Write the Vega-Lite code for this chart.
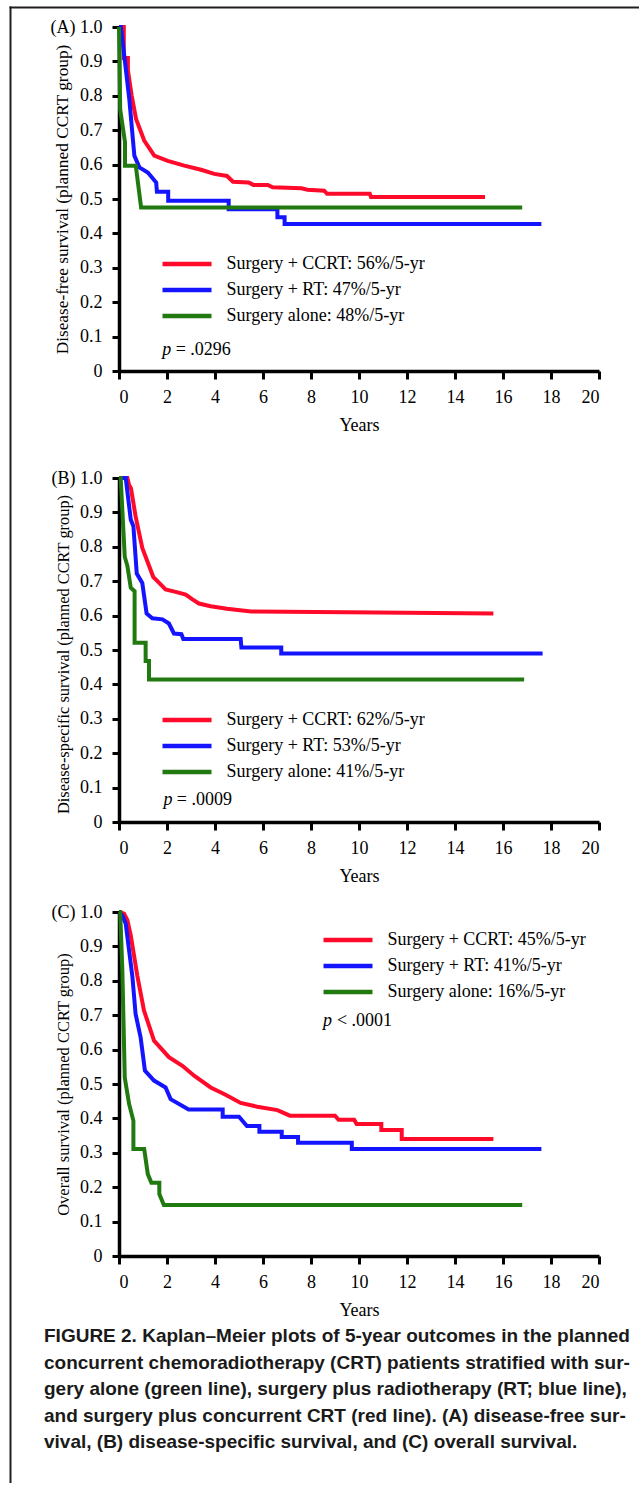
{
  "$schema": "https://vega.github.io/schema/vega-lite/v6.json",
  "background": "white",
  "padding": {"left": 7, "top": 7, "right": 0, "bottom": 0},
  "bounds": "flush",
  "spacing": 0,
  "datasets": {
    "dfs": [
      {"g":"CCRT","t":0,"s":1},{"g":"CCRT","t":0.2,"s":1},{"g":"CCRT","t":0.2,"s":0.91},{"g":"CCRT","t":0.37,"s":0.91},{"g":"CCRT","t":0.37,"s":0.875},{"g":"CCRT","t":0.53,"s":0.8},{"g":"CCRT","t":0.71,"s":0.733},{"g":"CCRT","t":1.05,"s":0.67},{"g":"CCRT","t":1.47,"s":0.626},{"g":"CCRT","t":2.03,"s":0.611},{"g":"CCRT","t":2.72,"s":0.597},{"g":"CCRT","t":3.42,"s":0.585},{"g":"CCRT","t":3.97,"s":0.573},{"g":"CCRT","t":4.5,"s":0.567},{"g":"CCRT","t":4.75,"s":0.55},{"g":"CCRT","t":5.4,"s":0.548},{"g":"CCRT","t":5.6,"s":0.541},{"g":"CCRT","t":6.2,"s":0.541},{"g":"CCRT","t":6.4,"s":0.534},{"g":"CCRT","t":7.6,"s":0.531},{"g":"CCRT","t":7.85,"s":0.527},{"g":"CCRT","t":8.55,"s":0.524},{"g":"CCRT","t":8.67,"s":0.515},{"g":"CCRT","t":10.45,"s":0.515},{"g":"CCRT","t":10.5,"s":0.506},{"g":"CCRT","t":15.25,"s":0.506},
      {"g":"RT","t":0,"s":1},{"g":"RT","t":0.08,"s":1},{"g":"RT","t":0.43,"s":0.79},{"g":"RT","t":0.64,"s":0.626},{"g":"RT","t":0.85,"s":0.592},{"g":"RT","t":1.2,"s":0.577},{"g":"RT","t":1.55,"s":0.548},{"g":"RT","t":1.58,"s":0.521},{"g":"RT","t":2.05,"s":0.521},{"g":"RT","t":2.05,"s":0.495},{"g":"RT","t":4.57,"s":0.495},{"g":"RT","t":4.57,"s":0.47},{"g":"RT","t":6.6,"s":0.47},{"g":"RT","t":6.6,"s":0.447},{"g":"RT","t":6.9,"s":0.447},{"g":"RT","t":6.9,"s":0.427},{"g":"RT","t":17.6,"s":0.427},
      {"g":"Alone","t":0,"s":1},{"g":"Alone","t":0.05,"s":0.76},{"g":"Alone","t":0.25,"s":0.665},{"g":"Alone","t":0.25,"s":0.597},{"g":"Alone","t":0.7,"s":0.597},{"g":"Alone","t":0.92,"s":0.475},{"g":"Alone","t":16.8,"s":0.475}
    ],
    "dss": [
      {"g":"CCRT","t":0,"s":1},{"g":"CCRT","t":0.35,"s":1},{"g":"CCRT","t":0.42,"s":0.98},{"g":"CCRT","t":0.5,"s":0.97},{"g":"CCRT","t":0.69,"s":0.889},{"g":"CCRT","t":0.97,"s":0.797},{"g":"CCRT","t":1.18,"s":0.758},{"g":"CCRT","t":1.43,"s":0.712},{"g":"CCRT","t":1.6,"s":0.7},{"g":"CCRT","t":1.94,"s":0.676},{"g":"CCRT","t":2.36,"s":0.669},{"g":"CCRT","t":2.78,"s":0.661},{"g":"CCRT","t":3.06,"s":0.647},{"g":"CCRT","t":3.33,"s":0.635},{"g":"CCRT","t":3.82,"s":0.627},{"g":"CCRT","t":4.5,"s":0.62},{"g":"CCRT","t":5.5,"s":0.612},{"g":"CCRT","t":9.5,"s":0.61},{"g":"CCRT","t":15.6,"s":0.606},
      {"g":"RT","t":0,"s":1},{"g":"RT","t":0.28,"s":1},{"g":"RT","t":0.49,"s":0.879},{"g":"RT","t":0.6,"s":0.86},{"g":"RT","t":0.74,"s":0.722},{"g":"RT","t":0.97,"s":0.695},{"g":"RT","t":1.15,"s":0.606},{"g":"RT","t":1.39,"s":0.592},{"g":"RT","t":1.81,"s":0.589},{"g":"RT","t":2.08,"s":0.577},{"g":"RT","t":2.29,"s":0.548},{"g":"RT","t":2.6,"s":0.546},{"g":"RT","t":2.68,"s":0.532},{"g":"RT","t":5.07,"s":0.532},{"g":"RT","t":5.1,"s":0.507},{"g":"RT","t":6.76,"s":0.507},{"g":"RT","t":6.76,"s":0.49},{"g":"RT","t":17.65,"s":0.49},
      {"g":"Alone","t":0,"s":1},{"g":"Alone","t":0.07,"s":1},{"g":"Alone","t":0.24,"s":0.771},{"g":"Alone","t":0.35,"s":0.744},{"g":"Alone","t":0.49,"s":0.681},{"g":"Alone","t":0.65,"s":0.671},{"g":"Alone","t":0.65,"s":0.521},{"g":"Alone","t":1.11,"s":0.521},{"g":"Alone","t":1.11,"s":0.468},{"g":"Alone","t":1.25,"s":0.468},{"g":"Alone","t":1.25,"s":0.414},{"g":"Alone","t":16.88,"s":0.414}
    ],
    "os": [
      {"g":"CCRT","t":0,"s":1},{"g":"CCRT","t":0.21,"s":0.995},{"g":"CCRT","t":0.35,"s":0.976},{"g":"CCRT","t":0.49,"s":0.932},{"g":"CCRT","t":0.76,"s":0.816},{"g":"CCRT","t":1.04,"s":0.714},{"g":"CCRT","t":1.46,"s":0.626},{"g":"CCRT","t":2.08,"s":0.578},{"g":"CCRT","t":2.64,"s":0.553},{"g":"CCRT","t":3.13,"s":0.524},{"g":"CCRT","t":3.82,"s":0.49},{"g":"CCRT","t":4.44,"s":0.469},{"g":"CCRT","t":5.07,"s":0.445},{"g":"CCRT","t":5.76,"s":0.434},{"g":"CCRT","t":6.6,"s":0.424},{"g":"CCRT","t":7.12,"s":0.408},{"g":"CCRT","t":9.0,"s":0.408},{"g":"CCRT","t":9.15,"s":0.396},{"g":"CCRT","t":9.8,"s":0.396},{"g":"CCRT","t":9.9,"s":0.384},{"g":"CCRT","t":10.93,"s":0.384},{"g":"CCRT","t":10.93,"s":0.366},{"g":"CCRT","t":11.78,"s":0.366},{"g":"CCRT","t":11.78,"s":0.34},{"g":"CCRT","t":15.6,"s":0.34},
      {"g":"RT","t":0,"s":1},{"g":"RT","t":0.14,"s":0.99},{"g":"RT","t":0.28,"s":0.966},{"g":"RT","t":0.56,"s":0.811},{"g":"RT","t":0.69,"s":0.704},{"g":"RT","t":0.9,"s":0.636},{"g":"RT","t":1.08,"s":0.539},{"g":"RT","t":1.46,"s":0.51},{"g":"RT","t":1.94,"s":0.49},{"g":"RT","t":2.15,"s":0.456},{"g":"RT","t":2.9,"s":0.426},{"g":"RT","t":4.32,"s":0.426},{"g":"RT","t":4.32,"s":0.405},{"g":"RT","t":5.0,"s":0.405},{"g":"RT","t":5.33,"s":0.378},{"g":"RT","t":5.85,"s":0.378},{"g":"RT","t":5.85,"s":0.361},{"g":"RT","t":6.78,"s":0.361},{"g":"RT","t":6.78,"s":0.346},{"g":"RT","t":7.46,"s":0.346},{"g":"RT","t":7.46,"s":0.329},{"g":"RT","t":9.7,"s":0.329},{"g":"RT","t":9.7,"s":0.311},{"g":"RT","t":17.6,"s":0.311},
      {"g":"Alone","t":0,"s":1},{"g":"Alone","t":0.05,"s":1},{"g":"Alone","t":0.14,"s":0.83},{"g":"Alone","t":0.24,"s":0.519},{"g":"Alone","t":0.42,"s":0.442},{"g":"Alone","t":0.6,"s":0.393},{"g":"Alone","t":0.6,"s":0.311},{"g":"Alone","t":1.05,"s":0.311},{"g":"Alone","t":1.2,"s":0.238},{"g":"Alone","t":1.35,"s":0.213},{"g":"Alone","t":1.68,"s":0.213},{"g":"Alone","t":1.68,"s":0.18},{"g":"Alone","t":1.87,"s":0.148},{"g":"Alone","t":16.8,"s":0.148}
    ]
  },
  "vconcat": [
    {
      "width": 631,
      "height": 20,
      "data": {"values": [{}]},
      "mark": {"type": "point", "opacity": 0},
      "encoding": {
        "x": {"datum": 0.5, "type": "quantitative", "scale": {"domain": [0, 1]}, "axis": {"orient": "top", "domainWidth": 2, "domainColor": "#231f20", "domainCap": "square", "ticks": false, "labels": false, "title": null}},
        "y": {"datum": 0.5, "type": "quantitative", "scale": {"domain": [0, 1], "range": [1476, 0]}, "axis": {"orient": "left", "domainWidth": 2, "domainColor": "#231f20", "domainCap": "square", "ticks": false, "labels": false, "title": null}}
      }
    },
    {
      "bounds": "flush",
      "spacing": 108,
      "hconcat": [
        {
          "width": 1,
          "height": 1,
          "data": {"values": [{}]},
          "mark": {"type": "point", "opacity": 0},
          "encoding": {
            "x": {"datum": 0, "type": "quantitative", "axis": null},
            "y": {"datum": 0, "type": "quantitative", "axis": null}
          }
        },
        {
          "spacing": 35,
          "resolve": {"scale": {"color": "independent"}, "legend": {"color": "independent"}},
          "title": {
            "text": [
              "FIGURE 2. Kaplan–Meier plots of 5-year outcomes in the planned",
              "concurrent chemoradiotherapy (CRT) patients stratified with sur-",
              "gery alone (green line), surgery plus radiotherapy (RT; blue line),",
              "and surgery plus concurrent CRT (red line). (A) disease-free sur-",
              "vival, (B) disease-specific survival, and (C) overall survival."
            ],
            "orient": "bottom",
            "anchor": "start",
            "frame": "group",
            "font": "Liberation Sans",
            "fontSize": 19,
            "fontWeight": "bold",
            "lineHeight": 26.5,
            "color": "#1a1a1a",
            "offset": 8,
            "dx": -75
          },
          "vconcat": [
            {
              "width": 480,
              "height": 344,
              "layer": [
                {
                  "data": {"name": "dfs"},
                  "mark": {"type": "line", "strokeWidth": 4},
                  "encoding": {
                    "x": {"field": "t", "type": "quantitative", "scale": {"domain": [0, 20], "nice": false}, "axis": {"values": [0,2,4,6,8,10,12,14,16,18,20], "tickCount": 11, "title": "Years"}},
                    "y": {"field": "s", "type": "quantitative", "scale": {"domain": [0, 1], "nice": false}, "axis": {"values": [0,0.1,0.2,0.3,0.4,0.5,0.6,0.7,0.8,0.9,1], "tickCount": 11, "labelOverlap": false, "labelExpr": "datum.value == 1 ? '(A) 1.0' : datum.value == 0 ? '0' : format(datum.value, '.1f')", "title": "Disease-free survival (planned CCRT group)", "titleX": -48, "titleFontSize": 17.3}},
                    "color": {"field": "g", "type": "nominal", "scale": {"domain": ["CCRT", "RT", "Alone"], "range": ["#ff0a2a", "#1414ff", "#217a10"]}, "legend": {"title": null, "legendX": 41, "legendY": 224, "labelExpr": "datum.label == 'CCRT' ? 'Surgery + CCRT: 56%/5-yr' : datum.label == 'RT' ? 'Surgery + RT: 47%/5-yr' : 'Surgery alone: 48%/5-yr'"}},
                    "order": {"value": null}
                  }
                },
                {
                  "data": {"values": [{}]},
                  "mark": {"type": "text", "text": "p", "fontStyle": "italic", "align": "left", "baseline": "middle"},
                  "encoding": {"x": {"datum": 1.8, "type": "quantitative"}, "y": {"datum": 0.062, "type": "quantitative"}}
                },
                {
                  "data": {"values": [{}]},
                  "mark": {"type": "text", "text": "= .0296", "align": "left", "baseline": "middle"},
                  "encoding": {"x": {"datum": 2.36, "type": "quantitative"}, "y": {"datum": 0.062, "type": "quantitative"}}
                }
              ]
            },
            {
              "spacing": 18,
              "resolve": {"scale": {"color": "independent"}, "legend": {"color": "independent"}},
              "vconcat": [
                {
                  "width": 480,
                  "height": 344,
                  "layer": [
                    {
                      "data": {"name": "dss"},
                      "mark": {"type": "line", "strokeWidth": 4},
                      "encoding": {
                        "x": {"field": "t", "type": "quantitative", "scale": {"domain": [0, 20], "nice": false}, "axis": {"values": [0,2,4,6,8,10,12,14,16,18,20], "tickCount": 11, "title": "Years"}},
                        "y": {"field": "s", "type": "quantitative", "scale": {"domain": [0, 1], "nice": false}, "axis": {"values": [0,0.1,0.2,0.3,0.4,0.5,0.6,0.7,0.8,0.9,1], "tickCount": 11, "labelOverlap": false, "labelExpr": "datum.value == 1 ? '(B) 1.0' : datum.value == 0 ? '0' : format(datum.value, '.1f')", "title": "Disease-specific survival (planned CCRT group)", "titleX": -48, "titleY": 176, "titleFontSize": 16.4}},
                        "color": {"field": "g", "type": "nominal", "scale": {"domain": ["CCRT", "RT", "Alone"], "range": ["#ff0a2a", "#1414ff", "#217a10"]}, "legend": {"title": null, "legendX": 41, "legendY": 229, "labelExpr": "datum.label == 'CCRT' ? 'Surgery + CCRT: 62%/5-yr' : datum.label == 'RT' ? 'Surgery + RT: 53%/5-yr' : 'Surgery alone: 41%/5-yr'"}},
                        "order": {"value": null}
                      }
                    },
                    {
                      "data": {"values": [{}]},
                      "mark": {"type": "text", "text": "p", "fontStyle": "italic", "align": "left", "baseline": "middle"},
                      "encoding": {"x": {"datum": 1.85, "type": "quantitative"}, "y": {"datum": 0.064, "type": "quantitative"}}
                    },
                    {
                      "data": {"values": [{}]},
                      "mark": {"type": "text", "text": "= .0009", "align": "left", "baseline": "middle"},
                      "encoding": {"x": {"datum": 2.41, "type": "quantitative"}, "y": {"datum": 0.064, "type": "quantitative"}}
                    }
                  ]
                },
                {
                  "width": 480,
                  "height": 344,
                  "layer": [
                    {
                      "data": {"name": "os"},
                      "mark": {"type": "line", "strokeWidth": 4},
                      "encoding": {
                        "x": {"field": "t", "type": "quantitative", "scale": {"domain": [0, 20], "nice": false}, "axis": {"values": [0,2,4,6,8,10,12,14,16,18,20], "tickCount": 11, "title": "Years"}},
                        "y": {"field": "s", "type": "quantitative", "scale": {"domain": [0, 1], "nice": false}, "axis": {"values": [0,0.1,0.2,0.3,0.4,0.5,0.6,0.7,0.8,0.9,1], "tickCount": 11, "labelOverlap": false, "labelExpr": "datum.value == 1 ? '(C) 1.0' : datum.value == 0 ? '0' : format(datum.value, '.1f')", "title": "Overall survival (planned CCRT group)", "titleX": -48, "titleFontSize": 16.5}},
                        "color": {"field": "g", "type": "nominal", "scale": {"domain": ["CCRT", "RT", "Alone"], "range": ["#ff0a2a", "#1414ff", "#217a10"]}, "legend": {"title": null, "legendX": 202, "legendY": 15, "labelExpr": "datum.label == 'CCRT' ? 'Surgery + CCRT: 45%/5-yr' : datum.label == 'RT' ? 'Surgery + RT: 41%/5-yr' : 'Surgery alone: 16%/5-yr'"}},
                        "order": {"value": null}
                      }
                    },
                    {
                      "data": {"values": [{}]},
                      "mark": {"type": "text", "text": "p", "fontStyle": "italic", "align": "left", "baseline": "middle"},
                      "encoding": {"x": {"datum": 8.5, "type": "quantitative"}, "y": {"datum": 0.684, "type": "quantitative"}}
                    },
                    {
                      "data": {"values": [{}]},
                      "mark": {"type": "text", "text": "< .0001", "align": "left", "baseline": "middle"},
                      "encoding": {"x": {"datum": 9.08, "type": "quantitative"}, "y": {"datum": 0.684, "type": "quantitative"}}
                    }
                  ]
                }
              ]
            }
          ]
        }
      ]
    }
  ],
  "config": {
    "view": {"stroke": null},
    "axis": {"domainColor": "black", "domainWidth": 3.5, "tickColor": "black", "tickWidth": 3, "tickSize": 7, "labelFont": "Liberation Serif", "labelFontSize": 18, "labelColor": "black", "labelOverlap": false, "titleFont": "Liberation Serif", "titleFontSize": 18, "titleFontWeight": "normal", "titleColor": "black", "grid": false},
    "axisX": {"labelPadding": 9, "titlePadding": 10, "tickSize": 8},
    "axisY": {"labelPadding": 10},
    "legend": {"orient": "none", "symbolType": "stroke", "symbolSize": 2401, "symbolStrokeWidth": 4.5, "clipHeight": 26, "rowPadding": 0, "labelFont": "Liberation Serif", "labelFontSize": 18, "labelColor": "black", "labelOffset": 12.5, "padding": 0, "labelLimit": 400},
    "text": {"font": "Liberation Serif", "fontSize": 18, "color": "black"}
  }
}
